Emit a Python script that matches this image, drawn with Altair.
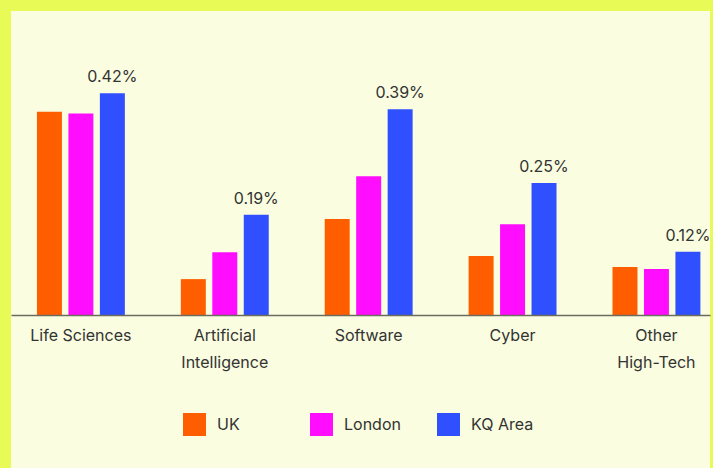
import altair as alt
import pandas as pd

categories = ["Life Sciences", "Artificial Intelligence", "Software", "Cyber", "Other High-Tech"]
series = ["UK", "London", "KQ Area"]
uk = [0.385, 0.068, 0.182, 0.112, 0.091]
london = [0.382, 0.119, 0.263, 0.172, 0.087]
kq = [0.42, 0.19, 0.39, 0.25, 0.12]
colors = ["#FF5E00", "#FF0DFF", "#3050FF"]

rows = []
for s, vals in zip(series, [uk, london, kq]):
    for c, v in zip(categories, vals):
        rows.append({"category": c, "series": s, "value": v})
df = pd.DataFrame(rows)

W, H = 699, 285
PAD = {"left": 11, "top": 30, "right": 3, "bottom": 153}
FONT = "Inter"
TXT = "#333333"

x_enc = alt.X(
    "category:N", sort=categories,
    scale=alt.Scale(paddingInner=0.389, paddingOuter=0.1235, align=0.73),
    axis=alt.Axis(
        title=None, labelAngle=0, ticks=False, domainColor="#6b6b5e", domainWidth=1.5,
        labelFont=FONT, labelFontSize=16, labelColor=TXT, labelPadding=12,
        labelLineHeight=27, zindex=1,
        labelExpr="datum.label == 'Life Sciences' ? datum.label : split(datum.label, ' ')",
    ),
)
xo_enc = alt.XOffset("series:N", sort=series, scale=alt.Scale(paddingInner=0.206, paddingOuter=0))
y_enc = alt.Y("value:Q", scale=alt.Scale(domain=[0, 0.54]), axis=None)

bg = alt.Chart(pd.DataFrame({"d": [0]})).mark_rect(color="#FAFDE0").encode(
    x=alt.value(0), x2=alt.value(W), y=alt.value(-PAD["top"] + 11), y2=alt.value(H + PAD["bottom"])
)

bars = alt.Chart(df).mark_bar().encode(
    x=x_enc, xOffset=xo_enc, y=y_enc,
    color=alt.Color(
        "series:N", sort=series,
        scale=alt.Scale(domain=series, range=colors),
        legend=alt.Legend(
            title=None, orient="none", legendX=172, legendY=383, direction="horizontal",
            columns=3, gridAlign="all", symbolType="square", symbolSize=529,
            symbolStrokeWidth=0, symbolOpacity=1, labelFont=FONT, labelFontSize=16,
            labelColor=TXT, labelOffset=11, columnPadding=30, padding=0,
        ),
    ),
)

labels = alt.Chart(df).transform_filter(
    alt.datum.series == "KQ Area"
).transform_calculate(
    label="format(datum.value, '.2f') + '%'"
).mark_text(font=FONT, fontSize=16, color=TXT, baseline="alphabetic", dy=-11).encode(
    x=x_enc, xOffset=xo_enc, y=y_enc, text="label:N"
)

chart = alt.layer(bg, bars, labels).properties(
    width=W, height=H, background="#E8FA55", padding=PAD,
    autosize=alt.AutoSizeParams(type="none"),
).configure_view(stroke=None)

chart.save("out.html", embed_options={"renderer": "svg", "actions": False})
